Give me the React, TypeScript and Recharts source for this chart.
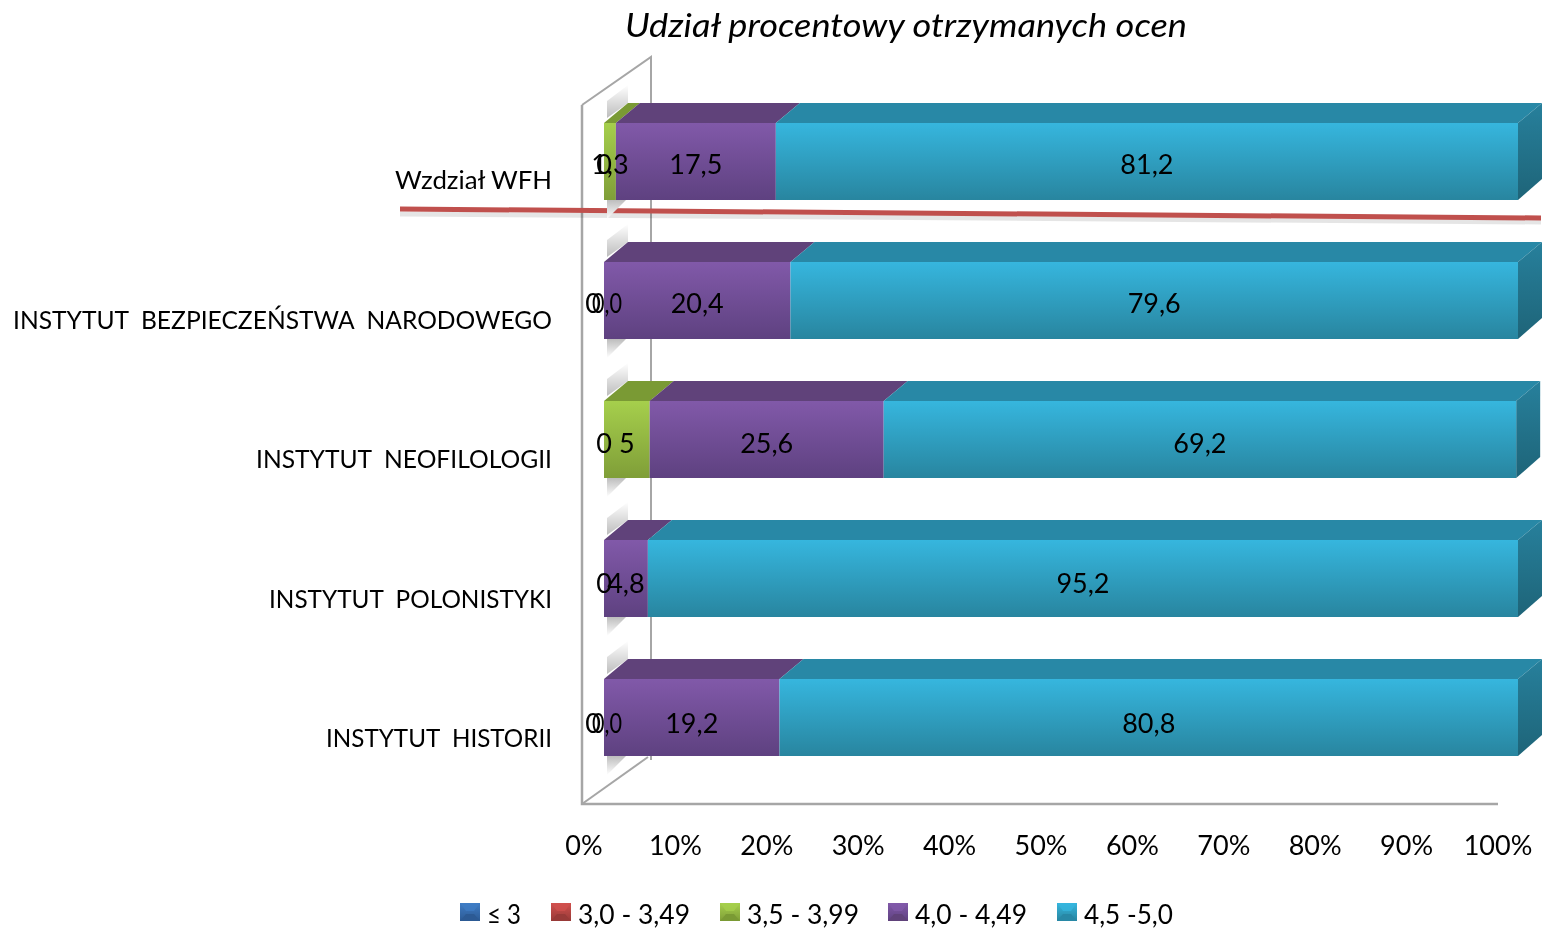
import React from "react";
import { BarChart, Bar, XAxis, YAxis, LabelList, Legend, Customized } from "recharts";

const FONT = "Lato, 'Open Sans', sans-serif";
const TEXT = "#000000";

const categories = [
  "Wzdział WFH",
  "INSTYTUT  BEZPIECZEŃSTWA  NARODOWEGO",
  "INSTYTUT  NEOFILOLOGII",
  "INSTYTUT  POLONISTYKI",
  "INSTYTUT  HISTORII",
];
const lowest = [0, 0, 0, 0, 0];
const low = [0, 0, 0, 0, 0];
const mid = [1.3, 0, 5, 0, 0];
const good = [17.5, 20.4, 25.6, 4.8, 19.2];
const best = [81.2, 79.6, 69.2, 95.2, 80.8];

const lowestLabels = ["0", "0", "0", "0", "0"];
const midLabels = ["1,3", "0,0", "5", "", "0,0"];
const goodLabels = ["17,5", "20,4", "25,6", "4,8", "19,2"];
const bestLabels = ["81,2", "79,6", "69,2", "95,2", "80,8"];

const legendNames = ["≤ 3", "3,0 - 3,49", "3,5 - 3,99", "4,0 - 4,49", "4,5 -5,0"];
const legendKeys = ["blue", "red", "green", "purple", "teal"];
const xTicks = [0, 10, 20, 30, 40, 50, 60, 70, 80, 90, 100];

const rows = categories.map((name, i) => ({
  name,
  lowest: lowest[i],
  low: low[i],
  mid: mid[i],
  good: good[i],
  best: best[i],
}));

const palette: Record<string, { top: string; bottom: string; roof: string; side1: string; side2: string }> = {
  blue: { top: "#3F7CC4", bottom: "#2C5A94", roof: "#2C5A94", side1: "#2C5A94", side2: "#234A7A" },
  red: { top: "#D0504D", bottom: "#983A38", roof: "#983A38", side1: "#983A38", side2: "#7C2F2D" },
  green: { top: "#A6CF4C", bottom: "#7F9E38", roof: "#7A9A34", side1: "#7A9A34", side2: "#647E2A" },
  purple: { top: "#8159A9", bottom: "#5E4180", roof: "#60427A", side1: "#60427A", side2: "#4E3564" },
  teal: { top: "#36B6DE", bottom: "#28859F", roof: "#2888A6", side1: "#27809C", side2: "#1E6478" },
};

const DX = 24;
const DY = 20;

function makeShape(key: string, withCap: boolean, withShadow: boolean) {
  const c = palette[key];
  return (props: any) => {
    const { x, y, width, height } = props;
    return (
      <g>
        {withShadow ? (
          <g>
            <polygon
              points={`${x + 3},${y - 5} ${x + 24},${y - 20} ${x + 24},${y - 38} ${x + 3},${y - 22}`}
              fill="url(#shadowUp)"
            />
            <polygon
              points={`${x + 3},${y + height} ${x + 22},${y + height} ${x + 3},${y + height + 19}`}
              fill="url(#shadowDown)"
            />
          </g>
        ) : null}
        {width > 0 ? (
          <g>
            <polygon
              points={`${x},${y} ${x + width},${y} ${x + width + DX},${y - DY} ${x + DX},${y - DY}`}
              fill={c.roof}
            />
            {withCap ? (
              <polygon
                points={`${x + width},${y} ${x + width + DX},${y - DY} ${x + width + DX},${y + height - DY - 1} ${x + width},${y + height}`}
                fill={`url(#side-${key})`}
              />
            ) : null}
            <rect x={x} y={y} width={width} height={height} fill={`url(#front-${key})`} />
          </g>
        ) : null}
      </g>
    );
  };
}

function makeLabel(strings: string[], nudge: (i: number) => number) {
  return (props: any) => {
    const { x, y, width, height, index } = props;
    const s = strings[index];
    if (!s) return null;
    const tight = s === "0,0" ? { textLength: 30, lengthAdjust: "spacingAndGlyphs" } : {};
    return (
      <text
        x={x + width / 2 + nudge(index)}
        y={y + height / 2 + 12 + index * 0.75}
        textAnchor="middle"
        fontFamily={FONT}
        fontSize={27}
        fill={TEXT}
        {...tight}
      >
        {s}
      </text>
    );
  };
}

const lineColor = "#A6A6A6";

function Scenery() {
  return (
    <g>
      <polyline points="582,105 651,57 651,760" fill="none" stroke={lineColor} strokeWidth={2} />
      <polyline points="582,105 582,804 1498,804" fill="none" stroke={lineColor} strokeWidth={2.5} />
      <line x1={582} y1={804} x2={648} y2={757} stroke={lineColor} strokeWidth={2} />
      <text
        x={906}
        y={37}
        textAnchor="middle"
        fontFamily={FONT}
        fontStyle="italic"
        fontSize={33}
        fill={TEXT}
        textLength={562}
        lengthAdjust="spacingAndGlyphs"
      >
        Udział procentowy otrzymanych ocen
      </text>
      <line x1={400} y1={214} x2={1541} y2={222} stroke="#000" strokeOpacity={0.1} strokeWidth={5} />
      <line x1={400} y1={209} x2={1541} y2={218} stroke="#C0504D" strokeWidth={5} />
    </g>
  );
}

const legendX = [460, 551, 720, 888, 1057];
const legendWidths = [34, 112, 112, 112, 89];

function LegendContent() {
  return (
    <svg width={1542} height={36} style={{ display: "block" }}>
      {legendNames.map((name, i) => {
        const c = palette[legendKeys[i]];
        const x = legendX[i];
        return (
          <g key={name}>
            <rect x={x} y={8} width={20} height={18} fill={`url(#front-${legendKeys[i]})`} />
            <polygon points={`${x},8 ${x + 20},8 ${x + 14},16 ${x + 6},16`} fill={c.top} opacity={0.75} />
            <polygon points={`${x},26 ${x + 20},26 ${x + 14},19 ${x + 6},19`} fill={c.roof} />
            <text
              x={x + 27}
              y={29}
              fontFamily={FONT}
              fontSize={26}
              fill={TEXT}
              textLength={legendWidths[i]}
              lengthAdjust="spacingAndGlyphs"
            >
              {name}
            </text>
          </g>
        );
      })}
    </svg>
  );
}

function XTick(props: any) {
  const { x, y, payload } = props;
  return (
    <text x={x - 20} y={y + 60} textAnchor="middle" fontFamily={FONT} fontSize={27} fill={TEXT}>
      {`${payload.value}%`}
    </text>
  );
}

const yLabelWidths = [157, 539, 296, 283, 226];

function YTick(props: any) {
  const { x, y, payload, index } = props;
  const w = yLabelWidths[index];
  return (
    <text
      x={x - 44 - w}
      y={y + 27.5 + index * 0.5}
      textAnchor="start"
      fontFamily={FONT}
      fontSize={25}
      fill={TEXT}
      style={{ whiteSpace: "pre" }}
      textLength={w}
      lengthAdjust="spacingAndGlyphs"
    >
      {payload.value}
    </text>
  );
}

const gradientKeys = Object.keys(palette);

export default function App() {
  return (
    <div style={{ position: "absolute", left: 0, top: 0, width: 1542, height: 930, background: "#fff", filter: "blur(0.5px)" }}>
      <BarChart
        width={1542}
        height={930}
        data={rows}
        layout="vertical"
        margin={{ left: 4, right: 24, top: 92, bottom: 0 }}
        barSize={77}
      >
        <defs>
          {gradientKeys.map((k) => (
            <linearGradient key={k} id={`front-${k}`} x1="0" y1="0" x2="0" y2="1">
              <stop offset="0" stopColor={palette[k].top} />
              <stop offset="1" stopColor={palette[k].bottom} />
            </linearGradient>
          ))}
          {gradientKeys.map((k) => (
            <linearGradient key={k} id={`side-${k}`} x1="0" y1="0" x2="0" y2="1">
              <stop offset="0" stopColor={palette[k].side1} />
              <stop offset="1" stopColor={palette[k].side2} />
            </linearGradient>
          ))}
          <linearGradient id="shadowUp" x1="0" y1="0" x2="0" y2="1">
            <stop offset="0" stopColor="#FFFFFF" />
            <stop offset="1" stopColor="#BDBDBD" />
          </linearGradient>
          <linearGradient id="shadowDown" x1="0" y1="0" x2="0" y2="1">
            <stop offset="0" stopColor="#BDBDBD" />
            <stop offset="1" stopColor="#FFFFFF" />
          </linearGradient>
        </defs>
        <Customized component={Scenery} />
        <XAxis
          type="number"
          domain={[0, 100]}
          ticks={xTicks}
          interval={0}
          axisLine={false}
          tickLine={false}
          tick={XTick}
          height={107}
        />
        <YAxis
          type="category"
          dataKey="name"
          width={600}
          interval={0}
          axisLine={false}
          tickLine={false}
          tick={YTick}
        />
        <Legend content={LegendContent} wrapperStyle={{ left: 0, top: 895, width: 1542, height: 36 }} />
        <Bar dataKey="lowest" stackId="a" isAnimationActive={false} shape={makeShape("blue", false, true)}>
          <LabelList content={makeLabel(lowestLabels, (i) => (i === 1 || i === 4 ? -11 : 0))} />
        </Bar>
        <Bar dataKey="low" stackId="a" isAnimationActive={false} shape={makeShape("red", false, false)} />
        <Bar dataKey="mid" stackId="a" isAnimationActive={false} shape={makeShape("green", false, false)}>
          <LabelList content={makeLabel(midLabels, (i) => (i === 1 || i === 4 ? 3 : 0))} />
        </Bar>
        <Bar dataKey="good" stackId="a" isAnimationActive={false} shape={makeShape("purple", false, false)}>
          <LabelList content={makeLabel(goodLabels, () => 0)} />
        </Bar>
        <Bar dataKey="best" stackId="a" isAnimationActive={false} shape={makeShape("teal", true, false)}>
          <LabelList content={makeLabel(bestLabels, () => 0)} />
        </Bar>
      </BarChart>
    </div>
  );
}
